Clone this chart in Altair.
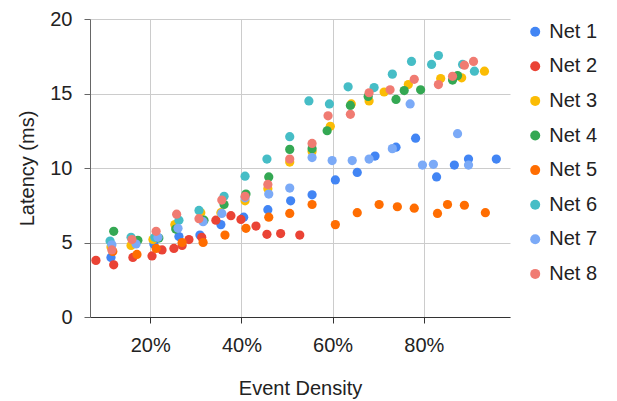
import altair as alt
import pandas as pd

series_names = ["Net 1", "Net 2", "Net 3", "Net 4", "Net 5", "Net 6", "Net 7", "Net 8"]
colors = ["#4285F4", "#EA4335", "#FBBC04", "#34A853", "#FF6D01", "#46BDC6", "#7BAAF7", "#F07B72"]

net1_x = [11.4, 20.8, 26.3, 30.9, 35.5, 40.5, 45.8, 50.8, 55.5, 60.6, 65.4, 69.3, 73.9, 78.2, 82.8, 86.7, 89.8, 95.9]
net1_y = [4.0, 4.9, 5.4, 5.5, 6.2, 6.7, 7.2, 7.8, 8.2, 9.2, 9.7, 10.8, 11.4, 12.0, 9.4, 10.2, 10.6, 10.6]

net2_x = [8.1, 12.0, 16.2, 20.4, 22.6, 25.2, 27.0, 28.5, 31.3, 34.4, 37.7, 39.9, 43.2, 45.6, 48.6, 52.8]
net2_y = [3.8, 3.5, 4.0, 4.1, 4.5, 4.6, 4.8, 5.2, 5.35, 6.5, 6.8, 6.55, 6.1, 5.55, 5.6, 5.5]

net3_x = [11.4, 15.8, 20.6, 25.4, 31.1, 35.5, 40.8, 45.8, 50.6, 55.5, 59.5, 64.1, 68.0, 71.3, 76.6, 83.7, 88.3, 93.3]
net3_y = [4.7, 4.8, 5.2, 6.2, 7.0, 7.0, 7.8, 8.6, 10.4, 11.1, 12.8, 14.3, 14.5, 15.1, 15.6, 16.0, 16.05, 16.5]

net4_x = [12.0, 17.3, 21.9, 25.6, 31.8, 36.2, 41.0, 46.0, 50.6, 55.5, 58.8, 63.9, 67.8, 73.9, 75.7, 79.3, 86.3, 87.4]
net4_y = [5.75, 5.15, 5.3, 5.9, 6.5, 7.55, 8.25, 9.4, 11.25, 11.3, 12.5, 14.2, 14.8, 14.6, 15.2, 15.25, 15.9, 16.2]

net5_x = [11.8, 17.1, 21.3, 27.0, 31.6, 36.4, 41.0, 46.0, 50.6, 55.5, 60.6, 65.4, 70.2, 74.2, 77.9, 83.0, 85.2, 88.9, 93.5]
net5_y = [4.4, 4.2, 4.6, 5.0, 5.0, 5.5, 5.95, 6.7, 6.95, 7.55, 6.2, 7.0, 7.55, 7.4, 7.3, 6.95, 7.55, 7.5, 7.0]

net6_x = [11.2, 15.8, 21.0, 26.3, 30.7, 36.2, 40.8, 45.6, 50.6, 54.8, 59.3, 63.4, 69.1, 73.1, 77.3, 81.7, 83.2, 88.5, 91.1]
net6_y = [5.1, 5.35, 5.35, 6.5, 7.15, 8.1, 9.45, 10.6, 12.1, 14.5, 14.3, 15.45, 15.4, 16.3, 17.15, 16.95, 17.55, 16.95, 16.5]

net7_x = [11.6, 16.9, 21.7, 26.1, 31.6, 35.7, 40.8, 46.0, 50.6, 55.5, 59.9, 64.3, 68.0, 73.1, 77.0, 79.7, 82.1, 87.4, 89.8]
net7_y = [4.85, 4.9, 5.35, 5.95, 6.4, 6.95, 8.0, 8.25, 8.65, 10.7, 10.5, 10.5, 10.6, 11.3, 14.3, 10.2, 10.25, 12.3, 10.2]

net8_x = [11.6, 16.0, 21.3, 25.8, 30.7, 35.7, 40.8, 45.8, 50.6, 55.5, 59.0, 63.9, 68.0, 72.6, 77.9, 83.2, 86.3, 88.9, 90.9]
net8_y = [4.5, 5.2, 5.75, 6.9, 6.6, 7.85, 8.1, 8.9, 10.6, 11.65, 13.5, 13.6, 15.05, 15.25, 15.95, 15.6, 16.15, 16.9, 17.15]

x_ticks = [20, 40, 60, 80]
y_ticks = [0, 5, 10, 15, 20]

all_x = [net1_x, net2_x, net3_x, net4_x, net5_x, net6_x, net7_x, net8_x]
all_y = [net1_y, net2_y, net3_y, net4_y, net5_y, net6_y, net7_y, net8_y]

rows = []
for i, (name, xs, ys) in enumerate(zip(series_names, all_x, all_y)):
    for j, (xv, yv) in enumerate(zip(xs, ys)):
        rows.append({"series": name, "density": xv, "latency": yv, "idx": i * 100 + j})
df = pd.DataFrame(rows)

FONT = "Liberation Sans"

chart = alt.Chart(df).mark_circle(size=85, opacity=1).encode(
    x=alt.X(
        "density:Q",
        scale=alt.Scale(domain=[6.8, 98.9], nice=False, zero=False),
        axis=alt.Axis(
            values=x_ticks,
            labelExpr="datum.value + '%'",
            title="Event Density",
            grid=True,
            gridColor="#cccccc",
            domainColor="#333333",
            tickColor="#333333",
            tickSize=6,
            labelPadding=12,
            titleBaseline="alphabetic",
            titleY=77,
        ),
    ),
    y=alt.Y(
        "latency:Q",
        scale=alt.Scale(domain=[0, 20], nice=False),
        axis=alt.Axis(
            values=y_ticks,
            title="Latency (ms)",
            grid=True,
            gridColor="#cccccc",
            domainColor="#666666",
            tickColor="#666666",
            tickSize=6,
            labelPadding=12,
            titleBaseline="alphabetic",
            titleX=-56.5,
        ),
    ),
    color=alt.Color(
        "series:N",
        scale=alt.Scale(domain=series_names, range=colors),
        legend=alt.Legend(
            title=None,
            orient="none",
            legendX=435.2,
            legendY=2.7,
            symbolType="circle",
            symbolSize=100,
            symbolStrokeWidth=0,
            labelFontSize=20,
            labelFont=FONT,
            labelColor="#222222",
            labelOffset=4,
            rowPadding=14.6,
            padding=0,
        ),
    ),
    order=alt.Order("idx:Q"),
).properties(
    width=420,
    height=298,
    autosize=alt.AutoSizeParams(type="none"),
    padding={"left": 82, "top": 11, "right": 95, "bottom": 83},
).configure_view(
    stroke=None
).configure_axis(
    labelFont=FONT,
    titleFont=FONT,
    labelFontSize=20,
    titleFontSize=20,
    labelColor="#222222",
    titleColor="#222222",
    titleFontWeight="normal",
    gridWidth=1,
)

chart.save("out.html", embed_options={"renderer": "svg", "actions": False})
